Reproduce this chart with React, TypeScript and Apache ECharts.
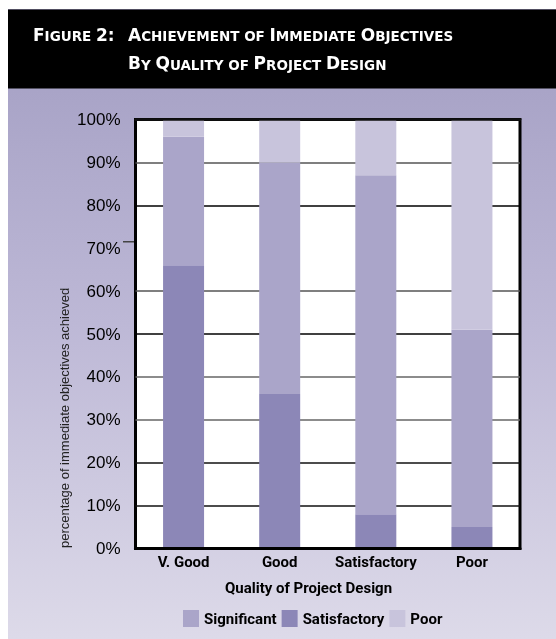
import React, { useEffect, useRef } from "react";
import * as echarts from "echarts";

const categories = ["V. Good", "Good", "Satisfactory", "Poor"];
const satisfactory = [66, 36, 8, 5];
const significant = [30, 54, 79, 46];
const poor = [4, 10, 13, 49];
const yTicks = [0, 10, 20, 30, 40, 50, 60, 70, 80, 90, 100];
const strayTickValue = 71.5;

const TITLE_FONT = "'DejaVu Sans', sans-serif";
const COND = "Roboto, 'Liberation Sans', sans-serif";
const SANS = "'Liberation Sans', Arial, sans-serif";

const C_DARK = "#8c87b7";
const C_MED = "#aaa5c9";
const C_LIGHT = "#c8c4dc";

const gridColors = ["#000", "#111", "#111", "#666", "#666", "#000", "#555", "transparent", "#000", "#555", "#000"];

export default function App() {
  const ref = useRef<HTMLDivElement>(null);
  useEffect(() => {
    if (!ref.current) return;
    const chart = echarts.init(ref.current, undefined, { renderer: "svg" });
    const rich = {
      b: { fontSize: 17, fontWeight: "bold", fontFamily: TITLE_FONT, fill: "#fff", verticalAlign: "bottom" },
      s: { fontSize: 13.5, fontWeight: "bold", fontFamily: TITLE_FONT, fill: "#fff", verticalAlign: "bottom" },
    };
    const option: any = {
      animation: false,
      graphic: {
        elements: [
          {
            type: "rect",
            id: "bg",
            z: -100,
            shape: { x: 0, y: 0, width: 548, height: 630 },
            style: {
              fill: new echarts.graphic.LinearGradient(0, 0, 0, 1, [
                { offset: 0, color: "#a29dc2" },
                { offset: 0.5, color: "#bdb8d6" },
                { offset: 1, color: "#dddae9" },
              ]),
            },
            silent: true,
          },
          {
            type: "rect",
            id: "band",
            z: -99,
            shape: { x: 0, y: 0.5, width: 548, height: 79 },
            style: { fill: "#000" },
            silent: true,
          },
          {
            type: "text",
            id: "t1",
            x: 25,
            y: 34,
            style: {
              text: "{b|F}{s|IGURE }{b|2:}",
              rich,
              fill: "#fff",
              verticalAlign: "bottom",
              align: "left",
            },
          },
          {
            type: "text",
            id: "t2",
            x: 120,
            y: 34,
            style: {
              text: "{b|A}{s|CHIEVEMENT OF }{b|I}{s|MMEDIATE }{b|O}{s|BJECTIVES}",
              rich,
              fill: "#fff",
              verticalAlign: "bottom",
              align: "left",
            },
          },
          {
            type: "text",
            id: "t3",
            x: 120,
            y: 62.5,
            style: {
              text: "{b|B}{s|Y }{b|Q}{s|UALITY OF }{b|P}{s|ROJECT }{b|D}{s|ESIGN}",
              rich,
              fill: "#fff",
              verticalAlign: "bottom",
              align: "left",
            },
          },
          {
            type: "text",
            id: "yname",
            x: 56,
            y: 539,
            rotation: Math.PI / 2,
            style: {
              text: "percentage of immediate objectives achieved",
              fontFamily: SANS,
              fontSize: 13,
              fill: "#222",
              align: "left",
              verticalAlign: "middle",
            },
          },
          {
            type: "text",
            id: "xname",
            x: 300.5,
            y: 579,
            style: {
              text: "Quality of Project Design",
              fontFamily: COND,
              fontWeight: "bold",
              fontSize: 15,
              fill: "#000",
              align: "center",
              verticalAlign: "middle",
            },
          },
        ],
      },
      grid: {
        left: 127.5,
        right: 36,
        top: 110.5,
        bottom: 90.5,
        show: true,
        backgroundColor: "#fff",
        borderColor: "#000",
        borderWidth: 3,
      },
      legend: {
        data: ["Significant", "Satisfactory", "Poor"],
        left: 170,
        top: 596,
        itemWidth: 16,
        itemHeight: 17,
        itemGap: 5,
        icon: "rect",
        textStyle: { fontFamily: COND, fontWeight: "bold", fontSize: 15, color: "#000" },
      },
      xAxis: [
        {
          type: "category",
          data: categories,
          z: 5,
          axisLine: { show: true, lineStyle: { color: "#000", width: 3 } },
          axisTick: { show: false },
          axisLabel: { interval: 0, margin: 6, fontFamily: COND, fontWeight: "bold", fontSize: 15, color: "#000" },
          splitLine: { show: false },
        },
        {
          type: "category",
          data: categories,
          position: "top",
          z: 5,
          axisLine: { show: true, lineStyle: { color: "#111", width: 2.5 } },
          axisTick: { show: false },
          axisLabel: { show: false },
          splitLine: { show: false },
        },
      ],
      yAxis: {
        type: "value",
        min: yTicks[0],
        max: yTicks[yTicks.length - 1],
        interval: 10,
        axisLine: { show: false },
        axisTick: { show: false },
        axisLabel: {
          formatter: "{value}%",
          margin: 15,
          fontFamily: SANS,
          fontSize: 17,
          color: "#000",
        },
        splitLine: { show: true, lineStyle: { color: gridColors, width: 1.5 } },
      },
      series: [
        {
          name: "Satisfactory",
          type: "bar",
          stack: "total",
          data: satisfactory,
          barWidth: 41,
          itemStyle: { color: C_DARK },
        },
        {
          name: "Significant",
          type: "bar",
          stack: "total",
          data: significant,
          barWidth: 41,
          itemStyle: { color: C_MED },
        },
        {
          name: "Poor",
          type: "bar",
          stack: "total",
          data: poor,
          barWidth: 41,
          itemStyle: { color: C_LIGHT },
        },
      ],
    };
    chart.setOption(option);
    const ty = chart.convertToPixel({ yAxisIndex: 0 }, strayTickValue) as number;
    chart.setOption({
      graphic: {
        elements: [
          {
            type: "line",
            id: "stray",
            shape: { x1: 115, y1: ty, x2: 126, y2: ty },
            style: { stroke: "#444", lineWidth: 1.5 },
          },
        ],
      },
    });
    return () => chart.dispose();
  }, []);
  return (
    <div
      ref={ref}
      style={{ position: "fixed", left: 8, top: 9, width: 548, height: 630 }}
    />
  );
}
